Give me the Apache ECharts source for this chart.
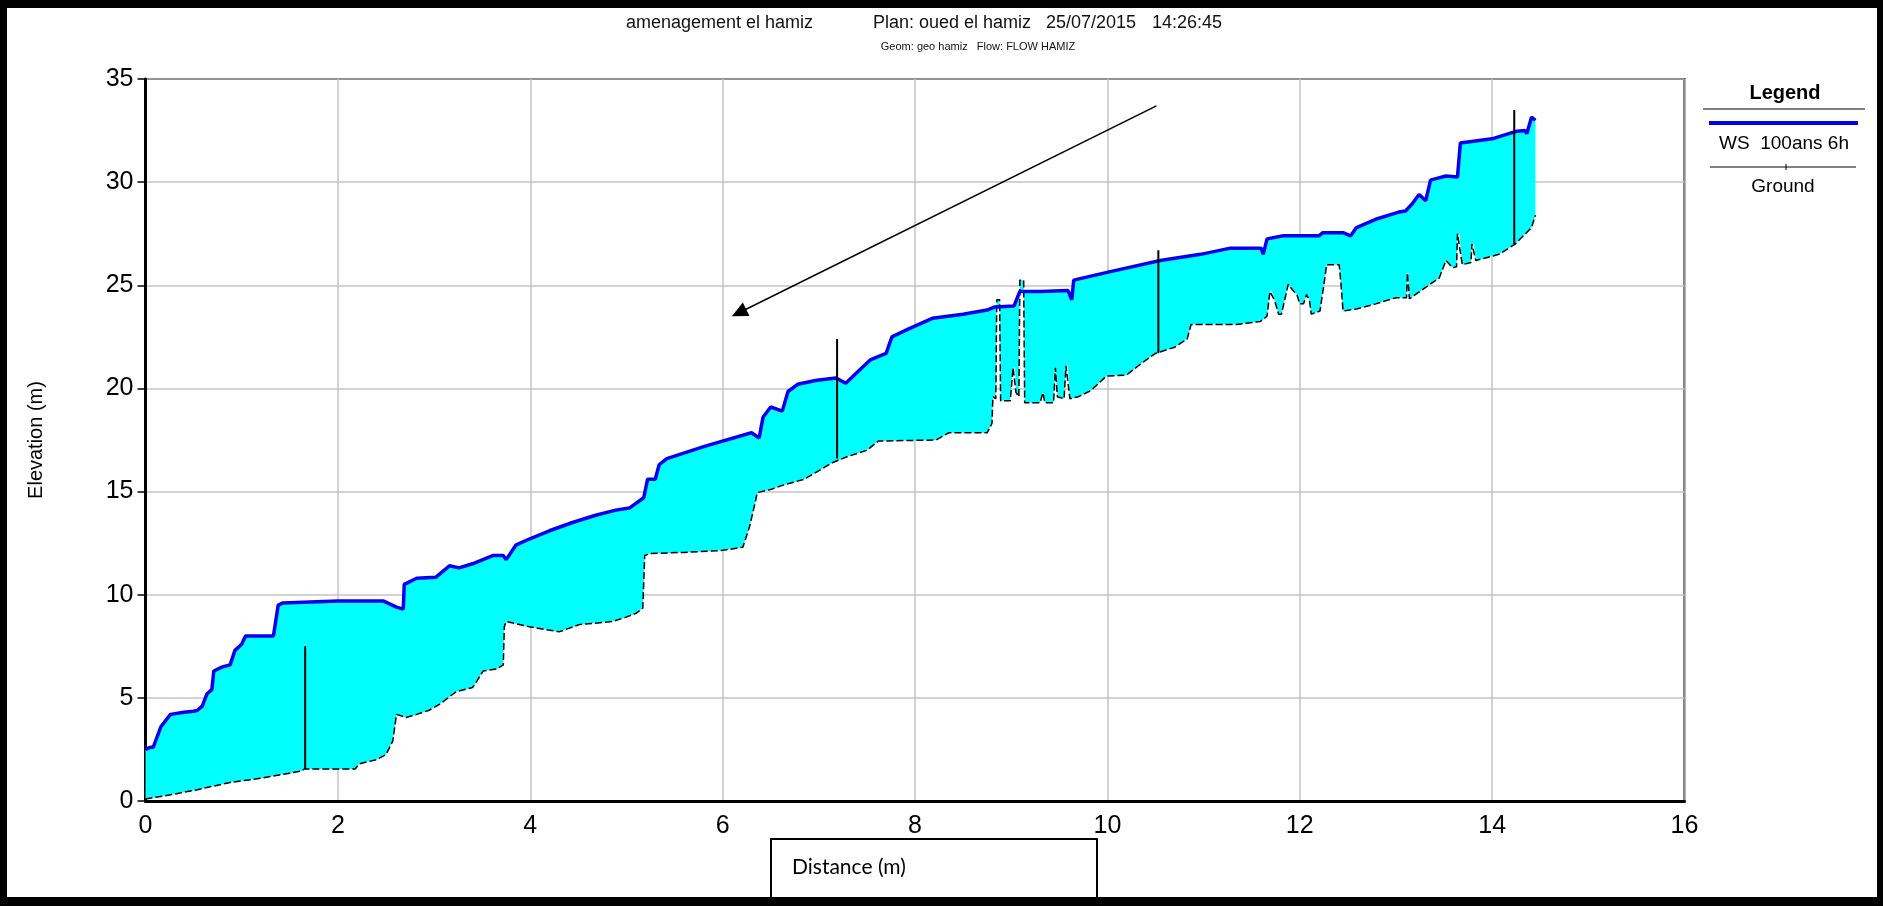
<!DOCTYPE html>
<html><head><meta charset="utf-8">
<script src="https://cdn.jsdelivr.net/npm/echarts@6/dist/echarts.min.js"></script>
<style>html,body{margin:0;padding:0;background:#fff}#c{width:1883px;height:906px}</style>
</head><body><div id="c"></div>
<script>
// Water surface profile "WS 100ans 6h"
const wsDistance = [0,0.05,0.08,0.16,0.26,0.40,0.50,0.54,0.59,0.64,0.69,0.71,0.80,0.88,0.93,1.00,1.04,1.33,1.38,1.43,2.00,2.47,2.61,2.68,2.69,2.82,3.02,3.16,3.26,3.40,3.61,3.72,3.75,3.85,3.99,4.20,4.44,4.68,4.89,5.03,5.18,5.22,5.30,5.34,5.42,5.82,6.30,6.38,6.42,6.50,6.62,6.68,6.78,6.98,7.18,7.28,7.38,7.54,7.70,7.76,7.94,8.18,8.50,8.75,8.83,9.03,9.09,9.31,9.59,9.63,9.65,10.02,10.55,10.97,11.28,11.60,11.62,11.66,11.83,12.20,12.24,12.45,12.53,12.59,12.79,13.03,13.10,13.17,13.24,13.31,13.36,13.52,13.64,13.67,14.00,14.24,14.34,14.36,14.41,14.45];
const wsElev = [2.5,2.6,2.6,3.6,4.2,4.3,4.35,4.4,4.6,5.2,5.4,6.3,6.5,6.6,7.3,7.6,8.0,8.0,9.5,9.6,9.7,9.7,9.4,9.3,10.5,10.8,10.85,11.4,11.3,11.5,11.9,11.9,11.7,12.4,12.7,13.1,13.5,13.85,14.1,14.2,14.7,15.6,15.6,16.3,16.6,17.2,17.85,17.6,18.6,19.1,18.9,19.85,20.2,20.4,20.5,20.25,20.7,21.4,21.7,22.5,22.9,23.4,23.6,23.8,23.95,24.0,24.7,24.7,24.75,24.3,25.25,25.65,26.2,26.5,26.8,26.8,26.5,27.25,27.4,27.4,27.55,27.55,27.4,27.8,28.2,28.55,28.6,28.95,29.4,29.1,30.1,30.3,30.25,31.9,32.1,32.45,32.5,32.35,33.15,33.0];

// Ground profile
const groundDistance = [0.00,0.26,0.54,0.88,1.20,1.50,1.62,1.65,2.18,2.22,2.40,2.50,2.57,2.61,2.71,2.82,2.95,3.06,3.23,3.40,3.45,3.51,3.65,3.72,3.73,3.75,3.99,4.30,4.51,4.85,4.99,5.10,5.17,5.19,5.25,5.60,6.00,6.21,6.28,6.34,6.36,6.50,6.62,6.85,7.14,7.30,7.50,7.62,8.22,8.35,8.75,8.80,8.81,8.84,8.85,8.88,8.89,8.99,9.02,9.04,9.05,9.08,9.09,9.13,9.14,9.30,9.33,9.35,9.44,9.46,9.48,9.55,9.57,9.59,9.61,9.70,9.83,9.99,10.20,10.35,10.50,10.70,10.83,10.87,11.00,11.34,11.59,11.66,11.69,11.71,11.74,11.78,11.81,11.88,11.92,11.97,12.00,12.04,12.07,12.10,12.12,12.21,12.25,12.28,12.41,12.43,12.45,12.59,12.79,13.00,13.11,13.12,13.13,13.14,13.34,13.45,13.52,13.59,13.63,13.64,13.66,13.69,13.78,13.79,13.81,13.83,14.07,14.24,14.41,14.45];
const groundElev = [0.1,0.3,0.55,0.9,1.1,1.35,1.45,1.55,1.55,1.8,2.0,2.25,2.9,4.2,4.05,4.2,4.4,4.7,5.3,5.5,5.85,6.3,6.4,6.6,8.45,8.7,8.45,8.2,8.55,8.7,8.9,9.1,9.35,11.9,12.0,12.05,12.15,12.3,13.3,14.5,14.95,15.1,15.3,15.6,16.4,16.7,17.0,17.45,17.5,17.85,17.85,18.3,19.6,19.5,24.3,24.3,19.4,19.4,21.0,21.0,19.8,19.6,25.25,25.25,19.3,19.3,19.8,19.3,19.3,21.0,19.6,19.5,21.1,21.1,19.5,19.6,19.9,20.6,20.65,21.2,21.7,22.0,22.4,23.1,23.1,23.1,23.25,23.5,24.7,24.7,24.25,23.6,23.6,25.05,24.8,24.55,24.1,24.1,24.55,24.3,23.6,23.75,25.0,26.0,26.0,25.0,23.75,23.85,24.1,24.4,24.4,25.6,25.6,24.35,25.0,25.35,26.2,25.85,25.9,27.5,27.5,26.0,26.1,27.0,27.0,26.2,26.5,27.0,27.8,28.4];

// Structures (vertical lines)
const structDistance = [1.66, 7.19, 10.53, 14.23];
const structBottom = [1.55, 16.6, 21.7, 27.0];
const structTop = [7.5, 22.4, 26.7, 33.5];

// Flow direction arrow
const arrowFrom = [10.51, 33.7];
const arrowTo = [6.17, 23.67];

const xMin = 0, xMax = 16, xStep = 2;
const yMin = 0, yMax = 35, yStep = 5;

const wsData = wsDistance.map((d, i) => [d, wsElev[i]]);
const groundData = groundDistance.map((d, i) => [d, groundElev[i]]);
const structData = [];
structDistance.forEach((d, i) => { structData.push([d, structBottom[i]], [d, structTop[i]], [d, '-']); });

const FONT = '"Liberation Sans", Arial, sans-serif';
const chart = echarts.init(document.getElementById('c'), null, {renderer: 'canvas'});

const option = {
  animation: false,
  backgroundColor: '#fff',
  grid: {left: 145.5, right: 198.5, top: 79, bottom: 105, show: true, borderColor: '#000', borderWidth: 2, backgroundColor: 'transparent'},
  xAxis: {
    type: 'value', min: xMin, max: xMax, interval: xStep,
    axisLine: {show: true, onZero: false, lineStyle: {color: '#000', width: 3}},
    axisTick: {show: false},
    axisLabel: {color: '#000', fontSize: 25, fontFamily: FONT, margin: 13},
    splitLine: {show: true, lineStyle: {color: '#c4c4c4', width: 1.5}}
  },
  yAxis: {
    type: 'value', min: yMin, max: yMax, interval: yStep,
    name: 'Elevation (m)', nameLocation: 'middle', nameGap: 99, nameRotate: 90,
    nameTextStyle: {color: '#000', fontSize: 20, fontFamily: FONT},
    axisLine: {show: true, onZero: false, lineStyle: {color: '#000', width: 3}},
    axisTick: {show: true, length: 8, lineStyle: {color: '#000', width: 1.5}},
    axisLabel: {color: '#000', fontSize: 25, fontFamily: FONT, margin: 12},
    splitLine: {show: true, lineStyle: {color: '#c4c4c4', width: 1.5}}
  },
  series: [
    {
      type: 'custom', z: 1, silent: true, clip: true,
      data: [[0, 0]],
      renderItem: function (params, api) {
        const pts = [];
        wsData.forEach(p => pts.push(api.coord(p)));
        for (let i = groundData.length - 1; i >= 0; i--) pts.push(api.coord(groundData[i]));
        return {type: 'polygon', shape: {points: pts}, style: {fill: '#00ffff', stroke: null}};
      }
    },
    {
      name: 'Ground', type: 'line', z: 3, data: groundData, showSymbol: false, symbol: 'none',
      lineStyle: {color: '#000', width: 1.5, type: [7, 3]}
    },
    {
      name: 'WS 100ans 6h', type: 'line', z: 4, data: wsData, showSymbol: false, symbol: 'none',
      lineStyle: {color: '#0000ee', width: 3.5}
    },
    {
      type: 'line', z: 5, data: structData, showSymbol: false, symbol: 'none', connectNulls: false,
      lineStyle: {color: '#000', width: 2},
      markLine: {
        silent: true, symbol: ['none', 'triangle'], symbolSize: [15, 16],
        lineStyle: {color: '#000', width: 1.5, type: 'solid'},
        label: {show: false},
        data: [[{coord: arrowFrom}, {coord: arrowTo}]]
      }
    }
  ],
  graphic: [
    // title
    {type: 'text', left: 626, top: 14, style: {text: 'amenagement el hamiz', font: '18px ' + FONT, fill: '#111'}},
    {type: 'text', left: 873, top: 14, style: {text: 'Plan: oued el hamiz', font: '18px ' + FONT, fill: '#111'}},
    {type: 'text', left: 1046, top: 14, style: {text: '25/07/2015', font: '18px ' + FONT, fill: '#111'}},
    {type: 'text', left: 1152, top: 14, style: {text: '14:26:45', font: '18px ' + FONT, fill: '#111'}},
    {type: 'text', x: 978, y: 47, style: {text: 'Geom: geo hamiz   Flow: FLOW HAMIZ', font: '11px ' + FONT, fill: '#111', align: 'center', verticalAlign: 'middle'}},
    // legend
    {type: 'text', x: 1785, y: 93, style: {text: 'Legend', font: 'bold 20px ' + FONT, fill: '#000', align: 'center', verticalAlign: 'middle'}},
    {type: 'line', shape: {x1: 1703, y1: 109, x2: 1865, y2: 109}, style: {stroke: '#000', lineWidth: 1}},
    {type: 'line', shape: {x1: 1709, y1: 123, x2: 1858, y2: 123}, style: {stroke: '#0000ee', lineWidth: 4}},
    {type: 'text', x: 1784, y: 144, style: {text: 'WS  100ans 6h', font: '19px ' + FONT, fill: '#000', align: 'center', verticalAlign: 'middle'}},
    {type: 'line', shape: {x1: 1710, y1: 167, x2: 1856, y2: 167}, style: {stroke: '#000', lineWidth: 1}},
    {type: 'line', shape: {x1: 1786, y1: 164, x2: 1786, y2: 170}, style: {stroke: '#000', lineWidth: 1}},
    {type: 'text', x: 1783, y: 187, style: {text: 'Ground', font: '19px ' + FONT, fill: '#000', align: 'center', verticalAlign: 'middle'}},
    // x-axis title box
    {type: 'rect', shape: {x: 771, y: 839, width: 326, height: 66}, style: {fill: '#fff', stroke: '#000', lineWidth: 2}},
    {type: 'text', x: 792, y: 867, style: {text: 'Distance (m)', font: '21px Lato, "Open Sans", sans-serif', fill: '#000', verticalAlign: 'middle'}},
    // outer frame
    {type: 'rect', shape: {x: 0, y: 0, width: 1883, height: 8}, style: {fill: '#000'}},
    {type: 'rect', shape: {x: 0, y: 897, width: 1883, height: 9}, style: {fill: '#000'}},
    {type: 'rect', shape: {x: 0, y: 0, width: 7, height: 906}, style: {fill: '#000'}},
    {type: 'rect', shape: {x: 1877, y: 0, width: 6, height: 906}, style: {fill: '#000'}}
  ]
};
chart.setOption(option);
</script></body></html>
